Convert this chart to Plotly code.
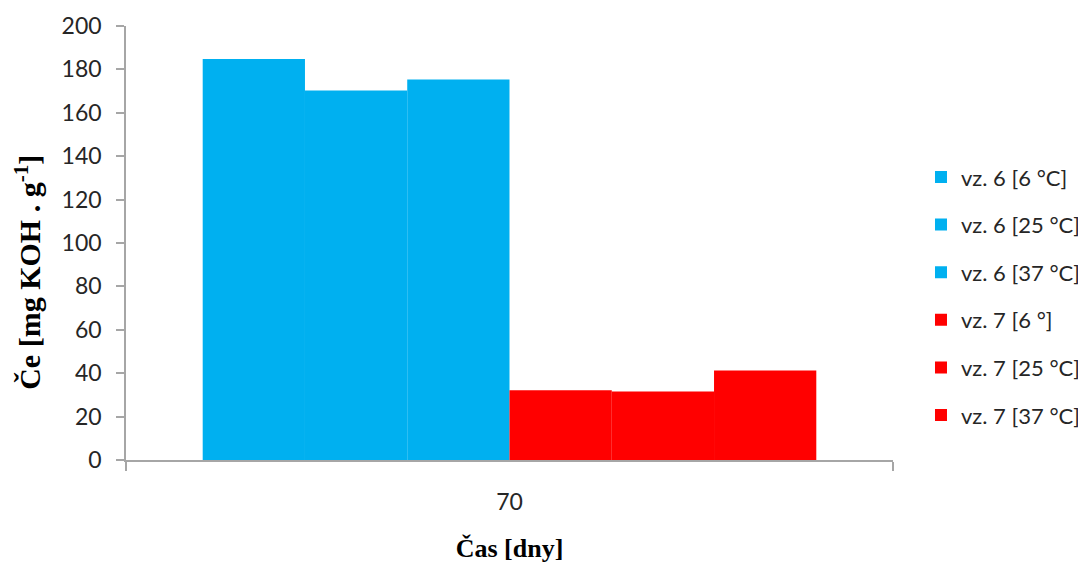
import plotly.graph_objects as go

categories = ["70"]
series_names = ["vz. 6 [6 °C]", "vz. 6 [25 °C]", "vz. 6 [37 °C]",
                "vz. 7 [6 °]", "vz. 7 [25 °C]", "vz. 7 [37 °C]"]
series_values = [[184.8], [170.3], [175.3], [32.2], [31.6], [41.2]]
series_colors = ["#00B0F0", "#00B0F0", "#00B0F0", "#FF0000", "#FF0000", "#FF0000"]
y_ticks = [0, 20, 40, 60, 80, 100, 120, 140, 160, 180, 200]

fig = go.Figure()
for i, (name, vals, col) in enumerate(zip(series_names, series_values, series_colors)):
    fig.add_trace(go.Bar(x=categories, y=vals, name=name, legendgroup=str(i),
                         marker=dict(color=col, line=dict(width=0))))

tick_font = dict(family="Lato, Open Sans, sans-serif", size=23, color="#262626")
fig.update_layout(
    width=1100, height=559,
    margin=dict(l=118, r=215, t=18, b=107),
    paper_bgcolor="white", plot_bgcolor="white",
    barmode="group", bargap=0.2, bargroupgap=0,
    showlegend=True,
    legend=dict(x=1.0365, y=0.700, xanchor="left", yanchor="top",
                font=dict(family="Lato, Open Sans, sans-serif", size=22, color="#262626"),
                tracegroupgap=16, itemwidth=30, bgcolor="rgba(0,0,0,0)"),
    xaxis=dict(type="category", automargin=False, showline=True, linecolor="#A6A6A6",
               linewidth=1.5, ticks="outside", tickson="boundaries", ticklen=9,
               tickcolor="#A6A6A6", tickwidth=1.5, ticklabelstandoff=21,
               tickfont=tick_font, showgrid=False,
               title=dict(text="<b>Čas [dny]</b>", standoff=24,
                          font=dict(family="Liberation Serif, serif", size=26, color="black"))),
    yaxis=dict(range=[0, 200], automargin=False, tickvals=y_ticks, showline=True,
               linecolor="#A6A6A6", linewidth=1.5, ticks="outside", ticklen=8,
               tickcolor="#A6A6A6", tickwidth=1.5, ticklabelstandoff=10,
               tickfont=tick_font, showgrid=False, zeroline=False),
    annotations=[dict(text="<b>Če [mg KOH . g<sup>-1</sup>]</b>", textangle=-90,
                      xref="paper", yref="paper", x=-0.128, y=(452 - 264) / 434,
                      xanchor="center", yanchor="middle", showarrow=False,
                      font=dict(family="Liberation Serif, serif", size=30, color="black"))],
)

fig.write_html("out.html")
